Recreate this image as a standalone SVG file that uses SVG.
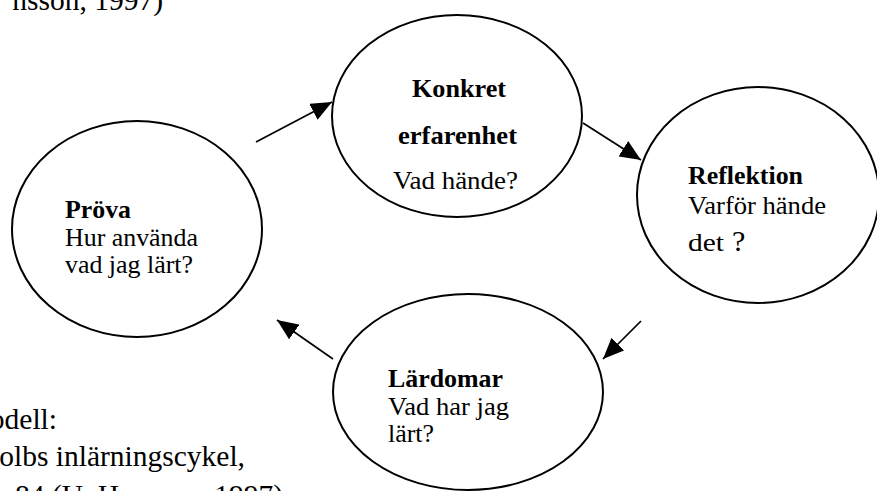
<svg xmlns="http://www.w3.org/2000/svg" width="877" height="491" viewBox="0 0 877 491">
<style>
.n{fill:#fff;stroke:#000;stroke-width:2}
.t{font-family:"Liberation Serif","Times New Roman",serif;font-size:26px;fill:#000}
.b{font-weight:bold}
.body{font-family:"Liberation Serif","Times New Roman",serif;font-size:29.5px;fill:#000;text-anchor:end}
.c{stroke:#000;stroke-width:1.7;fill:none;marker-end:url(#ah)}
</style>
<defs>
<marker id="ah" markerUnits="userSpaceOnUse" markerWidth="22" markerHeight="18" refX="21" refY="9" orient="auto">
<path d="M0,0 L21,9 L0,18 z" fill="#000"/>
</marker>
</defs>
<rect width="877" height="491" fill="#fff"/>
<g id="bodytext">
<text class="body" x="163" y="10">nsson, 1997)</text>
<text class="body" x="57" y="429">odell:</text>
<text class="body" x="245" y="466">olbs inlärningscykel,</text>
<text class="body" x="283" y="505">84 (U. Hansson, 1997)</text>
</g>
<g id="konkret">
<ellipse class="n" cx="457" cy="116" rx="125" ry="101"/>
<text class="t b" x="412" y="97" textLength="94" lengthAdjust="spacingAndGlyphs">Konkret</text>
<text class="t b" x="398" y="144" textLength="119" lengthAdjust="spacingAndGlyphs">erfarenhet</text>
<text class="t" x="393" y="189" textLength="125" lengthAdjust="spacingAndGlyphs">Vad hände?</text>
</g>
<g id="reflektion">
<ellipse class="n" cx="758" cy="195" rx="121" ry="108"/>
<text class="t b" x="688" y="184" textLength="115" lengthAdjust="spacingAndGlyphs">Reflektion</text>
<text class="t" x="688" y="214" textLength="138" lengthAdjust="spacingAndGlyphs">Varför hände</text>
<text class="t" x="688" y="251"><tspan textLength="36" lengthAdjust="spacingAndGlyphs">det</tspan><tspan font-size="30" dx="8">?</tspan></text>
</g>
<g id="prova">
<ellipse class="n" cx="137" cy="229" rx="125" ry="108"/>
<text class="t b" x="65" y="218" textLength="66" lengthAdjust="spacingAndGlyphs">Pröva</text>
<text class="t" x="65" y="246" textLength="133" lengthAdjust="spacingAndGlyphs">Hur använda</text>
<text class="t" x="65" y="273" textLength="128" lengthAdjust="spacingAndGlyphs">vad jag lärt?</text>
</g>
<g id="lardomar">
<ellipse class="n" cx="468" cy="392" rx="135" ry="98"/>
<text class="t b" x="388" y="387" textLength="115" lengthAdjust="spacingAndGlyphs">Lärdomar</text>
<text class="t" x="388" y="415" textLength="121" lengthAdjust="spacingAndGlyphs">Vad har jag</text>
<text class="t" x="388" y="442" textLength="46" lengthAdjust="spacingAndGlyphs">lärt?</text>
</g>
<g id="connectors">
<line class="c" x1="256" y1="142" x2="332" y2="102"/>
<line class="c" x1="583" y1="123" x2="641" y2="160"/>
<line class="c" x1="641" y1="321" x2="603" y2="359"/>
<line class="c" x1="333" y1="359" x2="277" y2="320"/>
</g>
</svg>
